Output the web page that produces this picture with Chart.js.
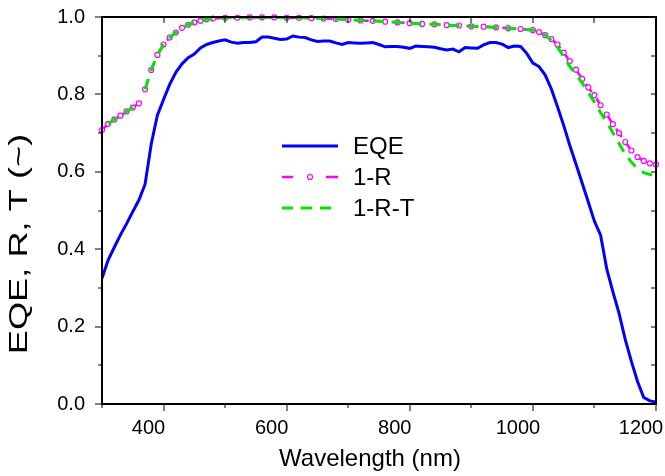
<!DOCTYPE html>
<html>
<head>
<meta charset="utf-8">
<script src="https://cdn.jsdelivr.net/npm/chart.js@4/dist/chart.umd.min.js"></script>
<style>
html,body{margin:0;padding:0;background:#fff;overflow:hidden;}
#wrap{width:665px;height:476px;position:relative;}
</style>
</head>
<body>
<div id="wrap"><canvas id="c" width="665" height="476"></canvas></div>
<script>
// ---- data ----
const eqeWave = [300,310,320,330,340,350,360,370,380,390,400,410,420,430,440,450,460,470,480,490,
  500,510,520,530,540,550,560,570,580,590,600,610,620,630,640,650,660,670,680,690,
  700,710,720,730,740,750,760,770,780,790,800,810,820,830,840,850,860,870,880,890,
  900,910,920,930,940,950,960,970,980,990,1000,1010,1020,1030,1040,1050,1060,1070,1080,1090,
  1100,1110,1120,1130,1140,1150,1160,1170,1180,1190,1200];
const eqeVal = [0.325,0.372,0.405,0.437,0.466,0.497,0.527,0.568,0.672,0.746,0.787,0.826,0.857,0.879,0.895,0.904,0.920,0.929,0.934,0.938,
  0.941,0.935,0.932,0.934,0.934,0.936,0.948,0.948,0.945,0.942,0.943,0.951,0.948,0.947,0.941,0.937,0.938,0.938,0.933,0.929,
  0.934,0.933,0.932,0.933,0.934,0.929,0.923,0.924,0.924,0.922,0.919,0.925,0.924,0.923,0.922,0.918,0.915,0.917,0.910,0.921,
  0.920,0.919,0.928,0.934,0.934,0.930,0.921,0.925,0.924,0.906,0.881,0.872,0.850,0.814,0.768,0.720,0.668,0.620,0.571,0.522,
  0.472,0.436,0.349,0.290,0.234,0.167,0.110,0.058,0.017,0.008,0.005];

const rWave = [300,310,320,330,340,350,360,365,370,380,390,400,410,420,430,440,450,460,470,480,
  500,520,540,560,580,600,620,640,660,680,700,720,740,760,780,800,820,840,860,880,900,920,940,960,980,1000,
  1010,1020,1030,1040,1050,1060,1070,1080,1090,1100,1110,1120,1130,1140,1150,1160,1170,1180,1190,1200];
const rVal = [0.708,0.724,0.735,0.745,0.756,0.766,0.777,null,0.813,0.863,0.902,0.929,0.947,0.960,0.972,0.980,0.986,0.990,0.994,0.996,
  0.998,0.998,0.999,0.999,0.999,0.998,0.998,0.997,0.996,0.995,0.993,0.991,0.990,0.988,0.986,0.984,0.982,0.981,0.979,0.978,0.976,0.975,0.973,0.971,0.969,0.966,
  0.961,0.953,0.943,0.929,0.908,0.886,0.864,0.840,0.818,0.798,0.772,0.748,0.723,0.700,0.677,0.655,0.638,0.628,0.622,0.619];

const rtWave = [310,320,330,340,350,360,365,370,380,390,400,410,420,430,440,450,460,470,480,
  500,520,540,560,580,600,620,640,660,680,700,720,740,760,780,800,820,840,860,880,900,920,940,960,980,1000,
  1010,1020,1030,1040,1050,1060,1070,1080,1090,1100,1110,1120,1130,1140,1150,1160,1170,1180,1190,1200];
const rtVal = [0.724,0.735,0.745,0.756,0.766,0.777,null,0.813,0.863,0.902,0.929,0.947,0.960,0.972,0.980,0.986,0.990,0.994,0.996,
  0.998,0.998,0.999,0.999,0.999,0.998,0.998,0.997,0.996,0.995,0.993,0.991,0.990,0.988,0.986,0.984,0.982,0.981,0.979,0.978,0.976,0.975,0.973,0.971,0.969,0.966,
  0.961,0.953,0.940,0.922,0.898,0.872,0.852,0.830,0.805,0.780,0.753,0.729,0.701,0.673,0.646,0.625,0.608,0.598,0.593,0.591];

const seriesLabels = ['EQE', '1-R', '1-R-T'];
const xTickLabels = [400, 600, 800, 1000, 1200];
const yTickLabels = [0.0, 0.2, 0.4, 0.6, 0.8, 1.0];
const xTitle = 'Wavelength (nm)';
const yTitle = 'EQE, R, T (~)';

const toXY = (xs, ys) => xs.map((x, i) => ({x: x, y: ys[i]}));

const FONT = "'Liberation Sans', Arial, sans-serif";

const framePlugin = {
  id: 'frame',
  afterDraw(chart) {
    const ctx = chart.ctx;
    const a = chart.chartArea;
    const x = chart.scales.x, y = chart.scales.y;
    ctx.save();
    ctx.setTransform(1, 0, 0, 1, 0, 0);
    ctx.globalAlpha = 1;
    const L = Math.round(a.left), R = Math.round(a.right), T = Math.round(a.top), B = Math.round(a.bottom);
    ctx.fillStyle = '#000';
    // frame
    ctx.fillRect(L - 1, T - 1, R - L + 2, 2);
    ctx.fillRect(L - 1, B - 1, R - L + 2, 2);
    ctx.fillRect(L - 1, T - 1, 2, B - T + 2);
    ctx.fillRect(R - 1, T - 1, 2, B - T + 2);
    // x ticks: bottom outward, top inward
    for (let v = 300; v <= 1200; v += 100) {
      const px = Math.round(x.getPixelForValue(v));
      const len = (v % 200 === 0) ? 7 : 4;
      ctx.fillRect(px - 0.5, B, 1, len);
      ctx.fillRect(px - 0.5, T, 1, 6);
    }
    // y ticks: left outward, right inward
    for (let k = 0; k <= 10; k++) {
      const py = Math.round(y.getPixelForValue(k / 10));
      const len = (k % 2 === 0) ? 7 : 4;
      ctx.fillRect(L - len, py - 0.5, len, 1);
      ctx.fillRect(R - 5, py - 0.5, 5, 1);
    }
    // axis titles
    ctx.font = '24px ' + FONT;
    ctx.textAlign = 'center';
    ctx.textBaseline = 'alphabetic';
    ctx.fillText(xTitle, 370, 466);
    ctx.save();
    ctx.translate(27, 244);
    ctx.rotate(-Math.PI / 2);
    ctx.scale(1.45, 1);
    ctx.font = '25px ' + FONT;
    ctx.fillText(yTitle, 0, 0);
    ctx.restore();
    // legend
    const ds = chart.data.datasets;
    const rows = [146, 177, 208];
    const x0 = 282, x1 = 338, tx = 353;
    ctx.font = '24px ' + FONT;
    ctx.textAlign = 'left';
    ctx.textBaseline = 'middle';
    ds.forEach((d, i) => {
      const yy = rows[i];
      ctx.strokeStyle = d.borderColor;
      ctx.lineWidth = d.borderWidth;
      ctx.setLineDash([]);
      if (i === 0) {
        ctx.beginPath(); ctx.moveTo(x0, yy); ctx.lineTo(x1, yy); ctx.stroke();
      } else if (i === 1) {
        ctx.beginPath(); ctx.moveTo(x0, yy); ctx.lineTo(x0 + 11, yy);
        ctx.moveTo(x1 - 12, yy); ctx.lineTo(x1, yy); ctx.stroke();
        ctx.lineWidth = 1.2;
        ctx.fillStyle = '#fff';
        ctx.beginPath(); ctx.arc((x0 + x1) / 2, yy, 2.5, 0, Math.PI * 2); ctx.fill(); ctx.stroke();
      } else {
        ctx.setLineDash([11, 8]);
        ctx.beginPath(); ctx.moveTo(x0, yy); ctx.lineTo(x1, yy); ctx.stroke();
        ctx.setLineDash([]);
      }
      ctx.fillStyle = '#000';
      ctx.fillText(d.label, tx, yy + 1);
    });
    ctx.restore();
  }
};

new Chart(document.getElementById('c'), {
  type: 'line',
  data: {
    datasets: [
      {label: seriesLabels[0], data: toXY(eqeWave, eqeVal), borderColor: '#0000ff', borderWidth: 3,
       pointRadius: 0, tension: 0, order: 2},
      {label: seriesLabels[1], data: toXY(rWave, rVal), borderColor: '#ff00ff', borderWidth: 2.5,
       borderDash: [10, 8], pointRadius: 2.5, pointBorderWidth: 1.2, pointBackgroundColor: '#ffffff',
       pointBorderColor: '#ff00ff', tension: 0, order: 1, clip: false},
      {label: seriesLabels[2], data: toXY(rtWave, rtVal), borderColor: '#00e600', borderWidth: 3,
       borderDash: [11, 8], pointRadius: 0, tension: 0, order: 0, clip: false}
    ]
  },
  options: {
    responsive: false,
    animation: false,
    spanGaps: false,
    devicePixelRatio: 1,
    layout: {padding: {left: 0, right: 9, top: 17, bottom: 0}},
    plugins: {legend: {display: false}, tooltip: {enabled: false}},
    scales: {
      x: {
        type: 'linear', min: 300, max: 1200,
        afterFit: s => { s.height = 72; s.paddingLeft = 0; s.paddingRight = 0; },
        afterBuildTicks: s => { s.ticks = xTickLabels.map(v => ({value: v})); },
        grid: {display: false, drawTicks: false},
        border: {display: false},
        ticks: {font: {family: FONT, size: 20}, color: '#000', padding: 12, labelOffset: -15, maxRotation: 0, autoSkip: false,
                callback: v => String(v)},
        title: {display: false}
      },
      y: {
        type: 'linear', min: 0, max: 1,
        afterFit: s => { s.width = 102; s.paddingTop = 0; s.paddingBottom = 0; },
        afterBuildTicks: s => { s.ticks = yTickLabels.map(v => ({value: v})); },
        grid: {display: false, drawTicks: false},
        border: {display: false},
        ticks: {font: {family: FONT, size: 20}, color: '#000', padding: 17, callback: v => v.toFixed(1)},
        title: {display: false}
      }
    }
  },
  plugins: [framePlugin]
});
</script>
</body>
</html>
